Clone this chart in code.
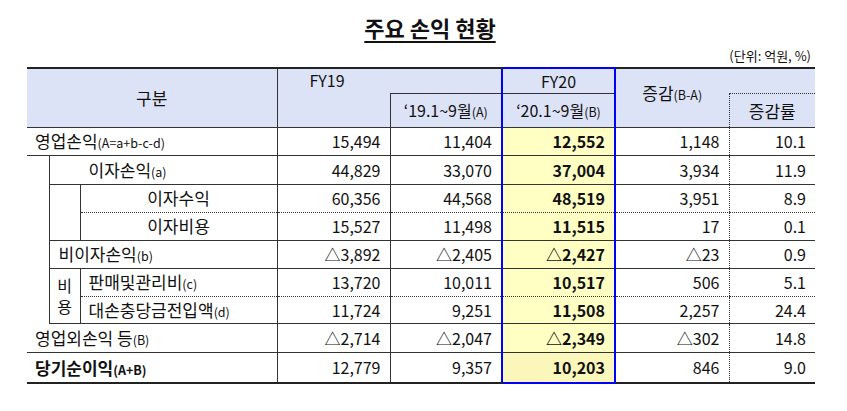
<!DOCTYPE html>
<html><head><meta charset="utf-8">
<script src="https://cdn.jsdelivr.net/npm/chart.js@4"></script>
<style>
body{margin:0;background:#fff;font-family:"Noto Sans CJK KR","Noto Sans",sans-serif;color:#111;}
#title{position:absolute;left:0;width:860px;top:11px;text-align:center;font-size:22px;font-weight:bold;}
#title span{text-decoration:underline;text-underline-offset:4px;}
#unit{position:absolute;right:36px;top:46px;font-size:13px;}
table{position:absolute;left:27px;top:67px;border-collapse:collapse;table-layout:fixed;width:788px;font-size:16px;}
td{padding:0;white-space:nowrap;overflow:visible;line-height:1;}
.h{background:#dde3f6;text-align:center;}
.n{text-align:right;padding-right:9px;border-left:1px solid #333;}
.y{background:#ffffc4;font-weight:bold;}
.s{font-size:12.5px;}
.b{border-bottom:1px solid #333;}
.d{border-bottom:1px dotted #333;}
.bl{border-left:2px solid #0000ff!important;border-right:2px solid #0000ff;}
.dl{border-left:1px dotted #333!important;}
</style></head><body>
<div id="title"><span>주요 손익 현황</span></div>
<div id="unit">(단위: 억원, %)</div>
<table id="t"></table>
<script>
const labels=["영업손익","이자손익","이자수익","이자비용","비이자손익","판매및관리비","대손충당금전입액","영업외손익 등","당기순이익"];
const suffixes=["(A=a+b-c-d)","(a)","","","(b)","(c)","(d)","(B)","(A+B)"];
const fy19=["15,494","44,829","60,356","15,527","△3,892","13,720","11,724","△2,714","12,779"];
const ytd19=["11,404","33,070","44,568","11,498","△2,405","10,011","9,251","△2,047","9,357"];
const ytd20=["12,552","37,004","48,519","11,515","△2,427","10,517","11,508","△2,349","10,203"];
const diff=["1,148","3,934","3,951","17","△23","506","2,257","△302","846"];
const rate=["10.1","11.9","8.9","0.1","0.9","5.1","24.4","14.8","9.0"];
const rowH=[28,29,28,28,28,28,27,29,31];
const bottom=["b","b","d","b","b","d","b","b","b"];
let h=`<colgroup><col style="width:22px"><col style="width:31px"><col style="width:197px"><col style="width:113px"><col style="width:112px"><col style="width:113px"><col style="width:114px"><col style="width:86px"></colgroup>`;
h+=`<tr style="height:25px"><td class="h b" colspan="3" rowspan="2" style="border-top:2px solid #222;font-size:17px">구분</td>
<td class="h" colspan="2" style="border-top:2px solid #222;border-left:1px solid #333;text-align:left;padding-left:32px;vertical-align:top;padding-top:3px">FY19</td>
<td class="h b bl" style="border-top:2px solid #0000ff">FY20</td>
<td class="h b" rowspan="2" style="border-top:2px solid #222;vertical-align:top;padding-top:15px;font-size:17px">증감<span class="s">(B-A)</span></td>
<td class="h" style="border-top:2px solid #222;border-bottom:1px dotted #333"></td></tr>`;
h+=`<tr style="height:34px"><td class="h b" style="border-left:1px solid #333"></td><td class="h b" style="border-left:1px solid #333;border-top:1px solid #333">‘19.1~9월<span class="s">(A)</span></td><td class="h b bl">‘20.1~9월<span class="s">(B)</span></td><td class="h b dl" style="font-size:17px">증감률</td></tr>`;
for(let i=0;i<labels.length;i++){
  const bc=bottom[i];
  const last=i===labels.length-1;
  const rowBg=last?' style="background:#fbf6b9"':'';
  let lab='';
  const L=`${labels[i]}<span class="s">${suffixes[i]}</span>`;
  if(i===0||i===7||i===8){lab=`<td class="b" colspan="3" style="padding-left:8px;font-size:17px;${last?'font-weight:bold;':''}">${L}</td>`;}
  else{
    if(i===1) lab+=`<td rowspan="6"></td>`;
    if(i===1||i===4) lab+=`<td class="b" colspan="2" style="border-left:1px solid #333;font-size:17px;padding-left:${i===1?39:9}px">${L}</td>`;
    if(i===2) lab+=`<td class="b" rowspan="2" style="border-left:1px solid #333"></td>`;
    if(i===5) lab+=`<td class="b" rowspan="2" style="border-left:1px solid #333;text-align:center;line-height:1.3;font-size:16px">비<br>용</td>`;
    if(i===2||i===3) lab+=`<td class="${bc}" style="border-left:1px solid #333;text-align:center;font-size:17px">${L}</td>`;
    if(i===5||i===6) lab+=`<td class="${bc}" style="border-left:1px solid #333;padding-left:8px;font-size:17px">${L}</td>`;
  }
  h+=`<tr style="height:${rowH[i]}px"${rowBg}>${lab}
<td class="n ${bc}">${fy19[i]}</td><td class="n ${bc}">${ytd19[i]}</td>
<td class="n ${bc} y bl" ${last?'style="background:#fbf6b9"':''}>${ytd20[i]}</td>
<td class="n ${bc}">${diff[i]}</td><td class="n ${bc} dl">${rate[i]}</td></tr>`;
}
document.getElementById('t').innerHTML=h;
const rows=document.querySelectorAll('#t tr');
rows[rows.length-1].querySelectorAll('td').forEach(td=>{td.style.borderBottom=td.classList.contains('bl')?'2px solid #0000ff':'2px solid #222';});
</script>
</body></html>
